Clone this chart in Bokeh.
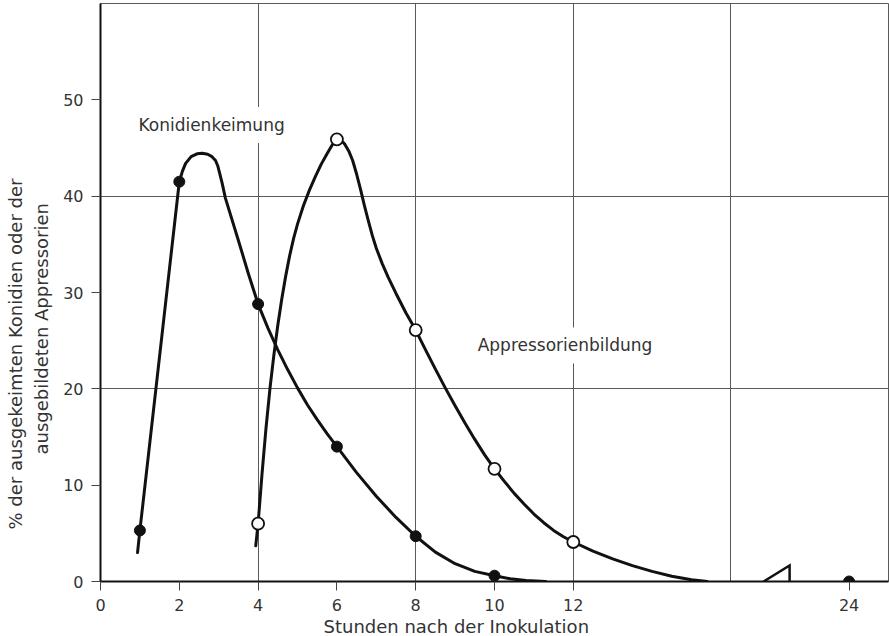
import math

from bokeh.embed import file_html
from bokeh.models import FixedTicker, Label, Range1d, Title
from bokeh.plotting import figure
from bokeh.resources import INLINE

# --- measured values (hours after inoculation, percent) -------------------
KONIDIEN_HOURS = [1, 2, 4, 6, 8, 10, 24]
KONIDIEN_PCT = [5.3, 41.5, 28.8, 14.0, 4.7, 0.6, 0.0]

APPRESSORIEN_HOURS = [4, 6, 8, 10, 12]
APPRESSORIEN_PCT = [6.0, 45.9, 26.1, 11.7, 4.1]

# --- hand-drawn fit curves through the measurements -----------------------
KONIDIEN_CURVE_HOURS = [0.94, 1.0, 2.0, 2.08, 2.16, 2.3, 2.45, 2.58, 2.72, 2.83,
                        2.92, 2.98, 3.03, 3.09, 3.17, 3.5, 3.75, 4.0, 4.25, 4.5,
                        4.75, 5.0, 5.25, 5.5, 5.75, 6.0, 6.5, 7.0, 7.5, 8.0,
                        8.5, 9.0, 9.5, 10.0, 10.4, 10.8, 11.3]
KONIDIEN_CURVE_PCT = [3.0, 5.3, 41.5, 42.6, 43.4, 44.1, 44.4, 44.45, 44.35, 44.1,
                      43.7, 43.1, 42.3, 41.3, 39.8, 35.4, 32.0, 28.8, 26.3, 24.05,
                      22.0, 20.1, 18.35, 16.8, 15.35, 14.0, 11.3, 8.85, 6.65, 4.7,
                      3.05, 1.85, 1.05, 0.6, 0.28, 0.1, 0.0]

APPRESSORIEN_CURVE_HOURS = [3.94, 4.0, 4.1, 4.2, 4.3, 4.4, 4.5, 4.6, 4.7, 4.8,
                            4.9, 5.0, 5.15, 5.3, 5.45, 5.6, 5.75, 5.88, 6.0, 6.1,
                            6.2, 6.3, 6.4, 6.5, 6.6, 6.7, 6.8, 6.9, 7.0, 7.15,
                            7.3, 7.5, 7.75, 8.0, 8.25, 8.5, 8.75, 9.0, 9.25, 9.5,
                            9.75, 10.0, 10.25, 10.5, 10.75, 11.0, 11.25, 11.5,
                            11.75, 12.0, 12.5, 13.0, 13.5, 14.0, 14.5, 15.0, 15.4]
APPRESSORIEN_CURVE_PCT = [3.7, 6.0, 11.2, 15.9, 20.0, 23.5, 26.6, 29.3, 31.7, 33.8,
                          35.6, 37.1, 39.0, 40.6, 42.0, 43.3, 44.4, 45.3, 45.9, 45.8,
                          45.4, 44.7, 43.7, 42.3, 40.7, 39.0, 37.4, 35.9, 34.6, 33.0,
                          31.6, 29.9, 27.9, 26.1, 24.05, 22.05, 20.1, 18.25, 16.45, 14.75,
                          13.15, 11.7, 10.4, 9.15, 8.05, 7.0, 6.1, 5.3,
                          4.65, 4.1, 3.15, 2.35, 1.65, 1.05, 0.55, 0.18, 0.0]

X_TICK_HOURS = [0, 2, 4, 6, 8, 10, 12, 24]
Y_TICKS = [0, 10, 20, 30, 40, 50]

# The time axis is broken after 16 h; 24 h sits at axis position 19.
BREAK_AFTER = 16
SHIFT_AFTER_BREAK = 5


def axis_pos(hours):
    return [h if h <= BREAK_AFTER else h - SHIFT_AFTER_BREAK for h in hours]


FONT = "DejaVu Sans"
INK = "#111111"
TEXT = "#333333"
GRID = "#5a5a5a"

p = figure(
    width=889, height=636,
    x_range=Range1d(0, 20), y_range=Range1d(0, 60),
    output_backend="svg", toolbar_location=None,
    min_border_left=100, min_border_right=1,
    min_border_top=3, min_border_bottom=55,
)
p.background_fill_color = "white"
p.border_fill_color = "white"
p.outline_line_color = GRID
p.outline_line_width = 1

# axes
x_ticks = axis_pos(X_TICK_HOURS)
p.xaxis.ticker = FixedTicker(ticks=x_ticks)
p.xaxis.major_label_overrides = {pos: str(h) for pos, h in zip(x_ticks, X_TICK_HOURS)}
p.yaxis.ticker = FixedTicker(ticks=Y_TICKS)
for ax in (p.xaxis, p.yaxis):
    ax.minor_tick_line_color = None
    ax.major_tick_in = 0
    ax.major_tick_out = 9
    ax.major_tick_line_color = "#444444"
    ax.major_tick_line_width = 1
    ax.axis_line_color = INK
    ax.axis_line_width = 2
    ax.major_label_text_font = FONT
    ax.major_label_text_font_size = "16px"
    ax.major_label_text_color = TEXT
    ax.major_label_standoff = 8

# axis titles
p.add_layout(Title(text="Stunden nach der Inokulation", align="left", offset=223,
                   standoff=0, text_font=FONT, text_font_size="18px",
                   text_font_style="normal", text_color=TEXT), "below")
p.add_layout(Title(text="ausgebildeten Appressorien", align="left", offset=127,
                   standoff=18, text_font=FONT, text_font_size="18px",
                   text_font_style="normal", text_color=TEXT), "left")
p.add_layout(Title(text="% der ausgekeimten Konidien oder der", align="left", offset=52,
                   standoff=-13, text_font=FONT, text_font_size="18px",
                   text_font_style="normal", text_color=TEXT), "left")

# grid: every 4 h and every 20 %
p.xgrid.ticker = FixedTicker(ticks=[4, 8, 12, 16])
p.ygrid.ticker = FixedTicker(ticks=[20, 40])
p.grid.grid_line_color = GRID
p.grid.grid_line_width = 1

# axis break mark
p.line([BREAK_AFTER + 0.83, BREAK_AFTER + 1.49, BREAK_AFTER + 1.49], [0, 1.66, 0],
       line_color=INK, line_width=2.5, line_join="miter")

# fit curves
p.line(axis_pos(KONIDIEN_CURVE_HOURS), KONIDIEN_CURVE_PCT,
       line_color=INK, line_width=3, line_join="round", line_cap="round")
p.line(axis_pos(APPRESSORIEN_CURVE_HOURS), APPRESSORIEN_CURVE_PCT,
       line_color=INK, line_width=3, line_join="round", line_cap="round")

# measurements; a value lying on the axis shows as a half dot
on_axis = [i for i, v in enumerate(KONIDIEN_PCT) if v == 0]
above = [i for i, v in enumerate(KONIDIEN_PCT) if v != 0]
k_pos = axis_pos(KONIDIEN_HOURS)
p.scatter([k_pos[i] for i in above], [KONIDIEN_PCT[i] for i in above], size=11,
          fill_color=INK, line_color=INK)
p.wedge([k_pos[i] for i in on_axis], [KONIDIEN_PCT[i] for i in on_axis],
        radius=5.5, radius_units="screen", start_angle=0, end_angle=math.pi,
        fill_color=INK, line_color=INK)
p.scatter(axis_pos(APPRESSORIEN_HOURS), APPRESSORIEN_PCT, size=12,
          fill_color="white", line_color=INK, line_width=1.8)

# curve names
for x, y, txt in [(0.76, 47.4, "Konidienkeimung"), (9.37, 24.5, "Appressorienbildung")]:
    p.add_layout(Label(x=x, y=y, text=txt, text_font=FONT, text_font_size="17px",
                       text_color=TEXT, text_baseline="alphabetic",
                       background_fill_color="white", padding=8))

open("out.html", "w").write(file_html(p, INLINE))
